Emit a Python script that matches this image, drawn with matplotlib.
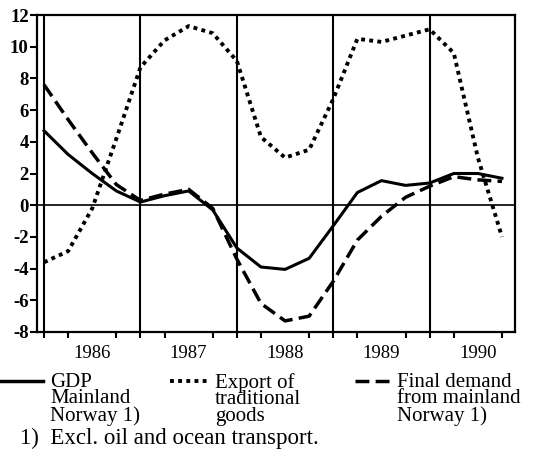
import matplotlib
matplotlib.use("Agg")
import matplotlib.pyplot as plt
from matplotlib.lines import Line2D
import numpy as np

# Quarterly data, 1986Q1 .. 1990Q4 (percentage change)
quarters = [1986.0 + 0.25 * i for i in range(20)]
gdp_mainland = [4.7, 3.2, 2.0, 0.9, 0.2, 0.6, 0.9, -0.3,
                -2.7, -3.9, -4.05, -3.35, -1.3, 0.8, 1.55, 1.25,
                1.4, 2.0, 2.0, 1.7]
export_trad = [-3.6, -2.9, -0.2, 4.2, 8.7, 10.4, 11.3, 10.85,
               9.1, 4.3, 3.0, 3.5, 6.7, 10.5, 10.3, 10.7,
               11.1, 9.6, 3.0, -2.0]
final_demand = [7.6, 5.4, 3.3, 1.3, 0.3, 0.7, 1.0, -0.2,
                -3.4, -6.2, -7.3, -7.0, -4.8, -2.2, -0.7, 0.5,
                1.2, 1.8, 1.6, 1.5]

year_labels = ["1986", "1987", "1988", "1989", "1990"]
years = [1986, 1987, 1988, 1989, 1990]
y_ticks = list(range(-8, 13, 2))

legend_labels = ["GDP\nMainland\nNorway 1)",
                 "Export of\ntraditional\ngoods",
                 "Final demand\nfrom mainland\nNorway 1)"]
footnote = "1)  Excl. oil and ocean transport."

W, H = 536, 454
fig = plt.figure(figsize=(W / 100, H / 100), dpi=100)
ax = fig.add_axes([37 / W, 1 - 332 / H, (515 - 37) / W, (332 - 15) / H])

serif = "Liberation Serif"
lw = 2.2
ax.plot(quarters, gdp_mainland, color="black", lw=lw, solid_joinstyle="round")
ax.plot(quarters, export_trad, color="black", lw=lw + 0.6,
        linestyle=(0, (1, 1.1)), dash_capstyle="butt")
ax.plot(quarters, final_demand, color="black", lw=lw + 0.3,
        linestyle=(0, (4, 1.8)), dash_capstyle="butt")

for yr in years:
    ax.axvline(yr, color="black", lw=1.5, zorder=0)
ax.axhline(0, color="black", lw=1.2, zorder=0)

ax.set_xlim(1985.927, 1990.885)
ax.set_ylim(-8, 12)

ax.set_xticks([y + 0.5 for y in years])
ax.set_xticklabels(year_labels, fontfamily=serif, fontsize=13.5)
ax.set_xticks(quarters, minor=True)
ax.tick_params(axis="x", which="major", length=0, pad=9)
ax.tick_params(axis="x", which="minor", length=4, width=1.5, direction="out")

ax.set_yticks(y_ticks)
ax.set_yticklabels([str(v) for v in y_ticks], fontfamily=serif,
                   fontsize=13.5, fontweight="bold")
ax.tick_params(axis="y", length=5, width=1.5, direction="out", pad=1)

for s in ax.spines.values():
    s.set_linewidth(1.6)

# Legend, drawn manually below the plot
styles = [dict(linestyle="-", lw=lw + 0.3),
          dict(linestyle=(0, (1, 1.1)), lw=lw + 0.6),
          dict(linestyle=(0, (4, 1.8)), lw=lw + 0.3)]
sample_x = [(0, 43), (170, 207), (355, 393)]
text_x = [50, 215, 397]
y_line = 381
for (x0, x1), tx, st, lab in zip(sample_x, text_x, styles, legend_labels):
    fig.add_artist(Line2D([x0 / W, x1 / W], [1 - y_line / H, 1 - y_line / H],
                          color="black", transform=fig.transFigure,
                          dash_capstyle="butt", **st))
    fig.text(tx / W, 1 - 373 / H, lab, fontfamily=serif, fontsize=15,
             va="top", ha="left", linespacing=0.82)

fig.text(20 / W, 1 - 428 / H, footnote, fontfamily=serif, fontsize=16.5,
         va="top", ha="left")

fig.savefig("out.png", dpi=100)
